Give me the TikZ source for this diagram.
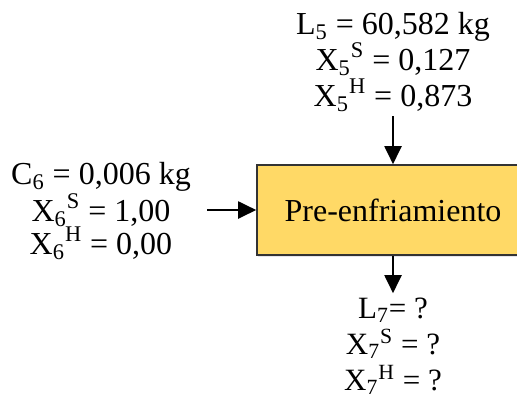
\documentclass[tikz,border=0pt]{standalone}
\usepackage{fontspec}
\setmainfont{Liberation Serif}
\usetikzlibrary{arrows.meta,shadows}
\begin{document}
\begin{tikzpicture}[x=0.5pt, y=-0.5pt,
  lbl/.style={align=center, inner sep=2pt, font=\fontsize{16}{18}\selectfont},
  proc/.style={draw=black!80, line width=0.8pt, fill={rgb,255:red,255;green,217;blue,102},
    minimum width=136pt, minimum height=45pt, font=\fontsize{16}{18}\selectfont,
    drop shadow={fill=blue!30!black!20, shadow xshift=0.6pt, shadow yshift=-1.2pt, opacity=0.5}},
  flow/.style={line width=1pt, -{Triangle[length=9pt, width=8.5pt]}}]
  \useasboundingbox (0,0) rectangle (517,398);
  % bloque del proceso y corrientes
  \node[proc] (pre) at (393,210) {Pre-enfriamiento};
  \node[lbl] (l5) at (393,62) {L\textsubscript{5} = 60,582 kg\\
    X\textsubscript{5}\textsuperscript{S} = 0,127\\
    X\textsubscript{5}\textsuperscript{H} = 0,873};
  \node[lbl, font=\fontsize{16}{16.5}\selectfont] (c6) at (101,211) {C\textsubscript{6} = 0,006 kg\\
    X\textsubscript{6}\textsuperscript{S} = 1,00\\
    X\textsubscript{6}\textsuperscript{H} = 0,00};
  \node[lbl, font=\fontsize{15.5}{18}\selectfont] (l7) at (393,346) {L\textsubscript{7}= ?\\
    X\textsubscript{7}\textsuperscript{S} = ?\\
    X\textsubscript{7}\textsuperscript{H} = ?};
  \coordinate (in6) at (207,210);
  \draw[flow] (l5.south) -- (l5.south |- pre.north);
  \draw[flow] (in6) -- (pre.west);
  \draw[flow] (pre.south -| l7) -- (l7.north);
\end{tikzpicture}
\end{document}
